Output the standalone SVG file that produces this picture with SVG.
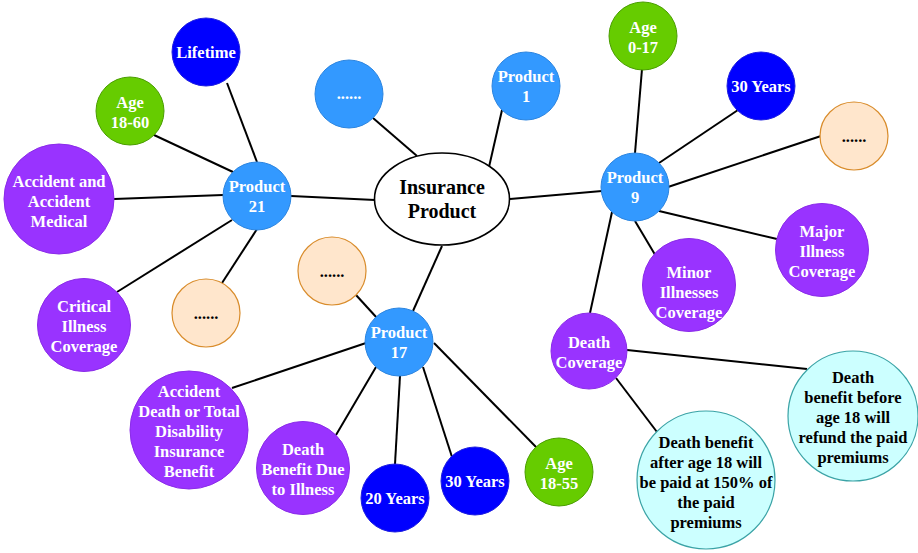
<svg xmlns="http://www.w3.org/2000/svg" width="918" height="553" viewBox="0 0 918 553">
<style>
text{font-family:"Liberation Serif","Times New Roman",serif;font-weight:bold;font-size:16.5px;text-anchor:middle}
.w{fill:#ffffff}
.k{fill:#000000}
.prod{fill:#3399FF;stroke:#2C85E0;stroke-width:1}
.dblue{fill:#0000FF;stroke:#1F1FE0;stroke-width:1}
.green{fill:#66CC00;stroke:#4A9E00;stroke-width:1}
.purple{fill:#9933FF;stroke:#8A2BE8;stroke-width:1}
.orange{fill:#FFE6CC;stroke:#D98C2B;stroke-width:1.2}
.cyan{fill:#CCFFFF;stroke:#3AA3A6;stroke-width:1.2}
.edge{stroke:#000000;stroke-width:2;fill:none}
</style>
<rect width="918" height="553" fill="#ffffff"/>
<g id="connectors" class="edge">
<line x1="373" y1="118" x2="417" y2="156"/>
<line x1="502" y1="110" x2="489" y2="167"/>
<line x1="291" y1="196" x2="375" y2="200"/>
<line x1="510" y1="199" x2="602" y2="191"/>
<line x1="442" y1="246" x2="413" y2="311"/>
<line x1="227" y1="83" x2="257" y2="162"/>
<line x1="154" y1="135" x2="233" y2="172"/>
<line x1="114" y1="199" x2="223" y2="195"/>
<line x1="232" y1="220" x2="117" y2="292"/>
<line x1="257" y1="229" x2="222" y2="283"/>
<line x1="642" y1="69" x2="635" y2="153"/>
<line x1="738" y1="110" x2="659" y2="163"/>
<line x1="821" y1="136" x2="668" y2="187"/>
<line x1="777" y1="239" x2="659" y2="211"/>
<line x1="657" y1="258" x2="635" y2="221"/>
<line x1="612" y1="212" x2="590" y2="313"/>
<line x1="356" y1="295" x2="377" y2="318"/>
<line x1="366" y1="343" x2="232" y2="388"/>
<line x1="376" y1="367" x2="336" y2="435"/>
<line x1="400" y1="376" x2="395" y2="464"/>
<line x1="423" y1="367" x2="452" y2="457"/>
<line x1="434" y1="343" x2="537" y2="448"/>
<line x1="627" y1="350" x2="807" y2="369"/>
<line x1="616" y1="378" x2="657" y2="432"/>
</g>
<g id="insurance-product">
<ellipse cx="442" cy="199" rx="67.5" ry="46" fill="#ffffff" stroke="#000000" stroke-width="1.6"/>
<text class="k" x="442" style="font-size:20px"><tspan x="442" y="194">Insurance</tspan><tspan x="442" y="218">Product</tspan></text>
</g>
<g id="more-products">
<circle class="prod" cx="349" cy="94" r="34"/>
<text class="w" x="349" y="99">......</text>
</g>
<g id="product-1">
<circle class="prod" cx="526" cy="86" r="34"/>
<text class="w"><tspan x="526" y="82">Product</tspan><tspan x="526" y="102">1</tspan></text>
</g>
<g id="product-21">
<circle class="prod" cx="257" cy="196" r="34"/>
<text class="w"><tspan x="257" y="192">Product</tspan><tspan x="257" y="212">21</tspan></text>
</g>
<g id="product-9">
<circle class="prod" cx="635" cy="187" r="34"/>
<text class="w"><tspan x="635" y="183">Product</tspan><tspan x="635" y="203">9</tspan></text>
</g>
<g id="product-17">
<circle class="prod" cx="399" cy="342" r="34"/>
<text class="w"><tspan x="399" y="338">Product</tspan><tspan x="399" y="358">17</tspan></text>
</g>
<g id="p21-lifetime">
<circle class="dblue" cx="206" cy="52" r="34"/>
<text class="w" x="206" y="58">Lifetime</text>
</g>
<g id="p21-age">
<circle class="green" cx="130" cy="111" r="34"/>
<text class="w"><tspan x="130" y="108">Age</tspan><tspan x="130" y="128">18-60</tspan></text>
</g>
<g id="p21-accident-medical">
<circle class="purple" cx="59" cy="199" r="55"/>
<text class="w"><tspan x="59" y="187">Accident and</tspan><tspan x="59" y="207">Accident</tspan><tspan x="59" y="227">Medical</tspan></text>
</g>
<g id="p21-critical">
<circle class="purple" cx="84" cy="325" r="46.5"/>
<text class="w"><tspan x="84" y="312">Critical</tspan><tspan x="84" y="332">Illness</tspan><tspan x="84" y="352">Coverage</tspan></text>
</g>
<g id="p21-more">
<circle class="orange" cx="206" cy="313" r="34"/>
<text class="k" x="206" y="319">......</text>
</g>
<g id="p9-age">
<circle class="green" cx="643" cy="36" r="34"/>
<text class="w"><tspan x="643" y="33">Age</tspan><tspan x="643" y="53">0-17</tspan></text>
</g>
<g id="p9-30years">
<circle class="dblue" cx="761" cy="86" r="34"/>
<text class="w" x="761" y="92">30 Years</text>
</g>
<g id="p9-more">
<circle class="orange" cx="854" cy="136" r="34"/>
<text class="k" x="854" y="142">......</text>
</g>
<g id="p9-major">
<circle class="purple" cx="822" cy="250" r="46.5"/>
<text class="w"><tspan x="822" y="237">Major</tspan><tspan x="822" y="257">Illness</tspan><tspan x="822" y="277">Coverage</tspan></text>
</g>
<g id="p9-minor">
<circle class="purple" cx="689" cy="285" r="46.5"/>
<text class="w"><tspan x="689" y="278">Minor</tspan><tspan x="689" y="298">Illnesses</tspan><tspan x="689" y="318">Coverage</tspan></text>
</g>
<g id="p9-death-coverage">
<circle class="purple" cx="589" cy="351" r="38"/>
<text class="w"><tspan x="589" y="348">Death</tspan><tspan x="589" y="368">Coverage</tspan></text>
</g>
<g id="death-before-18">
<circle class="cyan" cx="853" cy="416" r="65"/>
<text class="k"><tspan x="853" y="383">Death</tspan><tspan x="853" y="403">benefit before</tspan><tspan x="853" y="423">age 18 will</tspan><tspan x="853" y="443">refund the paid</tspan><tspan x="853" y="463">premiums</tspan></text>
</g>
<g id="death-after-18">
<circle class="cyan" cx="706" cy="480" r="69"/>
<text class="k"><tspan x="706" y="448">Death benefit</tspan><tspan x="706" y="468">after age 18 will</tspan><tspan x="706" y="488">be paid at 150% of</tspan><tspan x="706" y="508">the paid</tspan><tspan x="706" y="528">premiums</tspan></text>
</g>
<g id="p17-more">
<circle class="orange" cx="332" cy="271" r="34"/>
<text class="k" x="332" y="277">......</text>
</g>
<g id="p17-accident-death">
<circle class="purple" cx="189" cy="430" r="59"/>
<text class="w"><tspan x="189" y="397">Accident</tspan><tspan x="189" y="417">Death or Total</tspan><tspan x="189" y="437">Disability</tspan><tspan x="189" y="457">Insurance</tspan><tspan x="189" y="477">Benefit</tspan></text>
</g>
<g id="p17-death-illness">
<circle class="purple" cx="303" cy="468" r="46.5"/>
<text class="w"><tspan x="303" y="455">Death</tspan><tspan x="303" y="475">Benefit Due</tspan><tspan x="303" y="495">to Illness</tspan></text>
</g>
<g id="p17-20years">
<circle class="dblue" cx="395" cy="498" r="34"/>
<text class="w" x="395" y="504">20 Years</text>
</g>
<g id="p17-30years">
<circle class="dblue" cx="475" cy="481" r="34"/>
<text class="w" x="475" y="487">30 Years</text>
</g>
<g id="p17-age">
<circle class="green" cx="559" cy="472" r="34"/>
<text class="w"><tspan x="559" y="469">Age</tspan><tspan x="559" y="489">18-55</tspan></text>
</g>
</svg>
